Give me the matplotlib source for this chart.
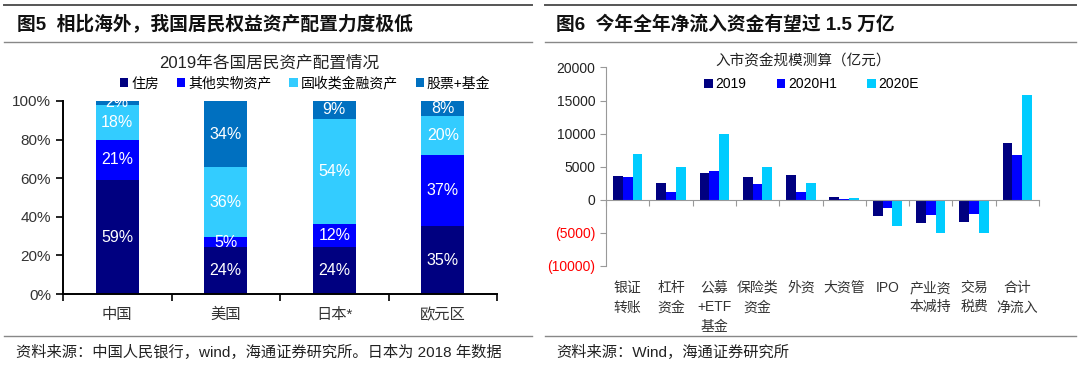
import numpy as np
import matplotlib
matplotlib.use('Agg')
import matplotlib.pyplot as plt
from matplotlib.lines import Line2D
from matplotlib.transforms import blended_transform_factory

plt.rcParams['font.family'] = ['Liberation Sans', 'Noto Sans CJK SC', 'DejaVu Sans']
plt.rcParams['axes.unicode_minus'] = False

# 左图：各国居民资产配置
countries = ['中国', '美国', '日本*', '欧元区']
alloc_names = ['住房', '其他实物资产', '固收类金融资产', '股票+基金']
housing = [59, 24, 24, 35]
other_real = [21, 5, 12, 37]
fixed_income = [18, 36, 54, 20]
equity = [2, 34, 9, 8]
alloc_colors = ['#000080', '#0000FF', '#33CCFF', '#0070C0']

# 右图：入市资金规模测算（亿元）
flow_cats = ['银证\n转账', '杠杆\n资金', '公募\n+ETF\n基金', '保险类\n资金', '外资',
             '大资管', 'IPO', '产业资\n本减持', '交易\n税费', '合计\n净流入']
series_names = ['2019', '2020H1', '2020E']
v2019 = [3600, 2500, 4100, 3400, 3800, 500, -2500, -3500, -3300, 8600]
v2020h1 = [3400, 1200, 4400, 2400, 1200, 100, -1300, -2300, -2200, 6800]
v2020e = [7000, 5000, 10000, 5000, 2500, 300, -4000, -5000, -5000, 15800]
flow_colors = ['#000080', '#0000FF', '#00CCFF']

W, H = 1080, 365
fig = plt.figure(figsize=(W / 100, H / 100), dpi=100)

def fx(px):
    return px / W

def fy(py):
    return 1 - py / H

# 页面框线和标题
for x0, x1 in [(4, 532), (545, 1076)]:
    fig.add_artist(Line2D([fx(x0), fx(x1)], [fy(4.5), fy(4.5)], color='#555555', lw=1.4))
    fig.add_artist(Line2D([fx(x0), fx(x1)], [fy(42), fy(42)], color='#888888', lw=1.0))
    fig.add_artist(Line2D([fx(x0), fx(x1)], [fy(336), fy(336)], color='#888888', lw=1.0))

fig.text(fx(17), fy(24), '图5  相比海外，我国居民权益资产配置力度极低', fontsize=13.5,
         fontweight='bold', va='center', ha='left', color='#111111')
fig.text(fx(556), fy(24), '图6  今年全年净流入资金有望过 1.5 万亿', fontsize=13.5,
         fontweight='bold', va='center', ha='left', color='#111111')
fig.text(fx(16), fy(352), '资料来源：中国人民银行，wind，海通证券研究所。日本为 2018 年数据',
         fontsize=11, va='center', ha='left', color='#222222')
fig.text(fx(556), fy(352), '资料来源：Wind，海通证券研究所',
         fontsize=11, va='center', ha='left', color='#222222')

# ---- 左图 ----
ax1 = fig.add_axes([fx(63), fy(294), fx(497 - 63), (294 - 101) / H])
x = np.arange(len(countries))
stack = [housing, other_real, fixed_income, equity]
totals = np.sum(stack, axis=0)
bottom = np.zeros(len(countries))
for raw, name, col in zip(stack, alloc_names, alloc_colors):
    vals = np.array(raw) / totals  # 百分比堆积
    ax1.bar(x, vals, 0.4, bottom=bottom, color=col, label=name)
    for xi, b, v, r in zip(x, bottom, vals, raw):
        ax1.text(xi, b + v / 2, f'{r}%', ha='center', va='center',
                 color='white', fontsize=11.5)
    bottom += vals

ax1.set_xlim(-0.5, len(countries) - 0.5)
ax1.set_ylim(0, 1)
ax1.set_yticks(np.linspace(0, 1, 6))
ax1.set_yticklabels([f'{int(v)}%' for v in np.linspace(0, 100, 6)], fontsize=11, color='#333333')
ax1.set_xticks(np.arange(len(countries) + 1) - 0.5)
ax1.set_xticklabels([])
ax1.tick_params(axis='x', length=5, width=1.2)
ax1.tick_params(axis='y', length=5, width=1.2)
for s in ['top', 'right']:
    ax1.spines[s].set_visible(False)
for s in ['left', 'bottom']:
    ax1.spines[s].set_linewidth(1.4)
tr1 = blended_transform_factory(ax1.transData, ax1.transAxes)
for xi, c in zip(x, countries):
    ax1.text(xi, -0.11, c, transform=tr1, ha='center', va='center', fontsize=11, color='#333333')
ax1.text(0.475, 1.2, '2019年各国居民资产配置情况', transform=ax1.transAxes, ha='center',
         va='center', fontsize=12, color='#222222')
ax1.legend(loc='center', bbox_to_anchor=(0.558, 1.09), ncol=4, frameon=False, fontsize=10,
           handlelength=0.6, handleheight=0.6, handletextpad=0.2, columnspacing=1.3)

# ---- 右图 ----
ax2 = fig.add_axes([fx(606), fy(266), fx(1039 - 606), (266 - 67.5) / H])
x2 = np.arange(len(flow_cats))
bw = 0.227
for k, (vals, name, col) in enumerate(zip([v2019, v2020h1, v2020e], series_names, flow_colors)):
    ax2.bar(x2 + (k - 1) * bw, vals, bw, color=col, label=name)

ax2.set_xlim(-0.5, len(flow_cats) - 0.5)
ax2.set_ylim(-10000, 20000)
yt = np.arange(-10000, 20001, 5000)
ax2.set_yticks(yt)
ax2.set_yticklabels([f'({-v})' if v < 0 else f'{v}' for v in yt], fontsize=10)
for lbl, v in zip(ax2.get_yticklabels(), yt):
    lbl.set_color('#FF0000' if v < 0 else '#222222')
ax2.spines['bottom'].set_position(('data', 0))
ax2.set_xticks(np.arange(len(flow_cats) + 1) - 0.5)
ax2.set_xticklabels([])
ax2.tick_params(axis='x', length=4, color='#999999')
ax2.tick_params(axis='y', length=4, color='#999999')
for s in ['top', 'right']:
    ax2.spines[s].set_visible(False)
for s in ['left', 'bottom']:
    ax2.spines[s].set_color('#999999')
tr2 = blended_transform_factory(ax2.transData, ax2.transAxes)
for xi, c in zip(x2, flow_cats):
    ax2.text(xi, -0.075, c, transform=tr2, ha='center', va='top', fontsize=10,
             color='#333333', linespacing=1.5)
ax2.text(0.455, 1.03, '入市资金规模测算（亿元）', transform=ax2.transAxes, ha='center',
         va='center', fontsize=10.5, color='#222222')
ax2.legend(loc='center', bbox_to_anchor=(0.475, 0.915), ncol=3, frameon=False, fontsize=10,
           handlelength=0.6, handleheight=0.6, handletextpad=0.2, columnspacing=2.2)

fig.savefig('out.png', dpi=100)
